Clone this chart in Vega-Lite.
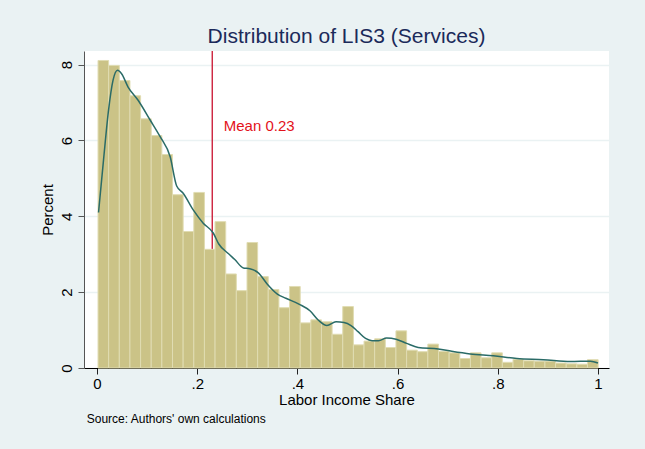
{
  "$schema": "https://vega.github.io/schema/vega-lite/v6.json",
  "width": 525,
  "height": 317,
  "autosize": {"type": "none"},
  "padding": {"left": 84, "top": 51, "right": 36, "bottom": 81},
  "background": "#EAF2F3",
  "title": {"text": "Distribution of LIS3 (Services)", "fontSize": 21, "font": "Liberation Sans", "fontWeight": "normal", "color": "#1B2A5A", "anchor": "middle", "offset": 3},
  "config": {
    "view": {"fill": "white", "stroke": null},
    "font": "Liberation Sans",
    "axisX": {"labelFontSize": 15, "labelColor": "#000", "labelPadding": 2, "tickSize": 6, "tickColor": "#222", "domainColor": "#000",
      "titleFontSize": 15, "titleFontWeight": "normal", "titleColor": "#000", "titlePadding": 1, "grid": false, "labelFlush": false},
    "axisY": {"labelAngle": -90, "labelAlign": "center", "labelBaseline": "bottom",
      "labelFontSize": 15, "labelColor": "#000", "labelPadding": 4, "tickSize": 6, "tickColor": "#555", "domainColor": "#555",
      "titleFontSize": 15, "titleFontWeight": "normal", "titleColor": "#000", "titlePadding": 4,
      "grid": true, "gridColor": "#EAF2F3", "gridWidth": 1.5, "labelFlush": false}
  },
  "datasets": {
    "bars": [
      {"bin_start": 0.002, "bin_end": 0.0232, "pct": 8.11},
      {"bin_start": 0.0232, "bin_end": 0.0445, "pct": 7.98},
      {"bin_start": 0.0445, "bin_end": 0.0657, "pct": 7.58},
      {"bin_start": 0.0657, "bin_end": 0.087, "pct": 7.18},
      {"bin_start": 0.087, "bin_end": 0.1082, "pct": 6.57},
      {"bin_start": 0.1082, "bin_end": 0.1294, "pct": 6.13},
      {"bin_start": 0.1294, "bin_end": 0.1507, "pct": 5.63},
      {"bin_start": 0.1507, "bin_end": 0.1719, "pct": 4.57},
      {"bin_start": 0.1719, "bin_end": 0.1932, "pct": 3.60},
      {"bin_start": 0.1932, "bin_end": 0.2144, "pct": 4.63},
      {"bin_start": 0.2144, "bin_end": 0.2356, "pct": 3.13},
      {"bin_start": 0.2356, "bin_end": 0.2569, "pct": 3.86},
      {"bin_start": 0.2569, "bin_end": 0.2781, "pct": 2.48},
      {"bin_start": 0.2781, "bin_end": 0.2994, "pct": 2.04},
      {"bin_start": 0.2994, "bin_end": 0.3206, "pct": 3.31},
      {"bin_start": 0.3206, "bin_end": 0.3418, "pct": 2.41},
      {"bin_start": 0.3418, "bin_end": 0.3631, "pct": 2.07},
      {"bin_start": 0.3631, "bin_end": 0.3843, "pct": 1.59},
      {"bin_start": 0.3843, "bin_end": 0.4056, "pct": 2.15},
      {"bin_start": 0.4056, "bin_end": 0.4268, "pct": 1.19},
      {"bin_start": 0.4268, "bin_end": 0.448, "pct": 1.27},
      {"bin_start": 0.448, "bin_end": 0.4693, "pct": 1.22},
      {"bin_start": 0.4693, "bin_end": 0.4905, "pct": 0.89},
      {"bin_start": 0.4905, "bin_end": 0.5118, "pct": 1.62},
      {"bin_start": 0.5118, "bin_end": 0.533, "pct": 0.61},
      {"bin_start": 0.533, "bin_end": 0.5542, "pct": 0.71},
      {"bin_start": 0.5542, "bin_end": 0.5755, "pct": 0.77},
      {"bin_start": 0.5755, "bin_end": 0.5967, "pct": 0.54},
      {"bin_start": 0.5967, "bin_end": 0.618, "pct": 0.98},
      {"bin_start": 0.618, "bin_end": 0.6392, "pct": 0.47},
      {"bin_start": 0.6392, "bin_end": 0.6604, "pct": 0.43},
      {"bin_start": 0.6604, "bin_end": 0.6817, "pct": 0.63},
      {"bin_start": 0.6817, "bin_end": 0.7029, "pct": 0.44},
      {"bin_start": 0.7029, "bin_end": 0.7242, "pct": 0.40},
      {"bin_start": 0.7242, "bin_end": 0.7454, "pct": 0.25},
      {"bin_start": 0.7454, "bin_end": 0.7666, "pct": 0.40},
      {"bin_start": 0.7666, "bin_end": 0.7879, "pct": 0.27},
      {"bin_start": 0.7879, "bin_end": 0.8091, "pct": 0.40},
      {"bin_start": 0.8091, "bin_end": 0.8304, "pct": 0.15},
      {"bin_start": 0.8304, "bin_end": 0.8516, "pct": 0.23},
      {"bin_start": 0.8516, "bin_end": 0.8728, "pct": 0.19},
      {"bin_start": 0.8728, "bin_end": 0.8941, "pct": 0.18},
      {"bin_start": 0.8941, "bin_end": 0.9153, "pct": 0.18},
      {"bin_start": 0.9153, "bin_end": 0.9366, "pct": 0.13},
      {"bin_start": 0.9366, "bin_end": 0.9578, "pct": 0.11},
      {"bin_start": 0.9578, "bin_end": 0.979, "pct": 0.10},
      {"bin_start": 0.979, "bin_end": 1.0003, "pct": 0.22}
    ],
    "kde": [
      {"x": 0.003, "density": 4.10},
      {"x": 0.013, "density": 5.49},
      {"x": 0.023, "density": 6.80},
      {"x": 0.032, "density": 7.59},
      {"x": 0.041, "density": 7.85},
      {"x": 0.049, "density": 7.76},
      {"x": 0.062, "density": 7.41},
      {"x": 0.082, "density": 7.06},
      {"x": 0.106, "density": 6.54},
      {"x": 0.126, "density": 6.10},
      {"x": 0.146, "density": 5.57},
      {"x": 0.159, "density": 4.80},
      {"x": 0.172, "density": 4.61},
      {"x": 0.192, "density": 4.17},
      {"x": 0.212, "density": 3.82},
      {"x": 0.232, "density": 3.56},
      {"x": 0.243, "density": 3.27},
      {"x": 0.262, "density": 3.02},
      {"x": 0.275, "density": 2.86},
      {"x": 0.292, "density": 2.64},
      {"x": 0.305, "density": 2.62},
      {"x": 0.322, "density": 2.51},
      {"x": 0.340, "density": 2.21},
      {"x": 0.360, "density": 1.95},
      {"x": 0.377, "density": 1.84},
      {"x": 0.404, "density": 1.68},
      {"x": 0.425, "density": 1.51},
      {"x": 0.442, "density": 1.26},
      {"x": 0.459, "density": 1.12},
      {"x": 0.477, "density": 1.22},
      {"x": 0.493, "density": 1.20},
      {"x": 0.507, "density": 1.12},
      {"x": 0.521, "density": 0.96},
      {"x": 0.536, "density": 0.78},
      {"x": 0.549, "density": 0.72},
      {"x": 0.562, "density": 0.72},
      {"x": 0.578, "density": 0.79},
      {"x": 0.597, "density": 0.76},
      {"x": 0.618, "density": 0.65},
      {"x": 0.641, "density": 0.54},
      {"x": 0.681, "density": 0.50},
      {"x": 0.708, "density": 0.44},
      {"x": 0.745, "density": 0.37},
      {"x": 0.791, "density": 0.32},
      {"x": 0.838, "density": 0.25},
      {"x": 0.891, "density": 0.22},
      {"x": 0.945, "density": 0.17},
      {"x": 0.985, "density": 0.18},
      {"x": 1.0, "density": 0.13}
    ],
    "stats": [{"mean": 0.23, "label": "Mean 0.23", "note": "Source: Authors' own calculations"}]
  },
  "layer": [
    {
      "data": {"name": "stats"},
      "mark": {"type": "rule", "color": "#C8102E", "strokeWidth": 1.3},
      "encoding": {
        "x": {"field": "mean", "type": "quantitative", "title": "Labor Income Share", "scale": {"domain": [-0.026, 1.022], "nice": false, "zero": false}}
      }
    },
    {
      "data": {"name": "bars"},
      "mark": {"type": "rect", "fill": "#CBC387", "stroke": "#E0DCB2", "strokeWidth": 1},
      "encoding": {
        "x": {"field": "bin_start", "type": "quantitative", "title": "Labor Income Share", "scale": {"domain": [-0.026, 1.022], "nice": false, "zero": false},
          "axis": {"values": [0, 0.2, 0.4, 0.6, 0.8, 1],
            "labelExpr": "datum.value == 0 ? '0' : datum.value == 1 ? '1' : replace(format(datum.value, '.1f'), '0.', '.')"}},
        "x2": {"field": "bin_end"},
        "y": {"field": "pct", "type": "quantitative", "title": "Percent", "scale": {"domain": [0, 8.36], "nice": false},
          "axis": {"values": [0, 2, 4, 6, 8]}},
        "y2": {"datum": 0}
      }
    },
    {
      "data": {"name": "kde"},
      "mark": {"type": "line", "color": "#2A6B67", "strokeWidth": 1.5, "interpolate": "monotone"},
      "encoding": {
        "x": {"field": "x", "type": "quantitative", "title": "Labor Income Share", "scale": {"domain": [-0.026, 1.022], "nice": false, "zero": false}},
        "y": {"field": "density", "type": "quantitative", "title": "Percent", "scale": {"domain": [0, 8.36], "nice": false}}
      }
    },
    {
      "data": {"name": "stats"},
      "mark": {"type": "text", "color": "#E3121B", "fontSize": 15, "align": "left", "baseline": "middle", "clip": false},
      "encoding": {
        "x": {"datum": 0.253, "type": "quantitative", "title": "Labor Income Share", "scale": {"domain": [-0.026, 1.022], "nice": false, "zero": false}},
        "y": {"datum": 6.39, "type": "quantitative", "title": "Percent", "scale": {"domain": [0, 8.36], "nice": false}},
        "text": {"field": "label"}
      }
    },
    {
      "data": {"name": "stats"},
      "mark": {"type": "text", "color": "#000", "fontSize": 12, "align": "left", "baseline": "middle", "clip": false},
      "encoding": {
        "x": {"datum": -0.0206, "type": "quantitative", "title": "Labor Income Share", "scale": {"domain": [-0.026, 1.022], "nice": false, "zero": false}},
        "y": {"datum": -1.34, "type": "quantitative", "title": "Percent", "scale": {"domain": [0, 8.36], "nice": false}},
        "text": {"field": "note"}
      }
    }
  ]
}
